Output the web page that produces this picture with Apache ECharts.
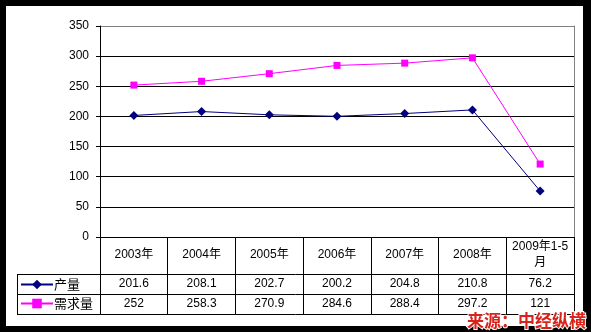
<!DOCTYPE html>
<html><head><meta charset="utf-8">
<script src="https://cdn.jsdelivr.net/npm/echarts@6/dist/echarts.min.js"></script>
<style>html,body{margin:0;padding:0;background:#000;}#c{width:591px;height:332px;}</style>
</head><body><div id="c"></div>
<script>
const categories = ['2003年','2004年','2005年','2006年','2007年','2008年','2009年1-5月'];
const production = [201.6, 208.1, 202.7, 200.2, 204.8, 210.8, 76.2];
const demand = [252, 258.3, 270.9, 284.6, 288.4, 297.2, 121];
const productionLabels = ['201.6','208.1','202.7','200.2','204.8','210.8','76.2'];
const demandLabels = ['252','258.3','270.9','284.6','288.4','297.2','121'];
const seriesNames = ['产量','需求量'];
const watermark = '来源：中经纵横';

const FONT = '"Liberation Sans", "Noto Sans CJK SC", sans-serif';
const chart = echarts.init(document.getElementById('c'), null, {renderer:'canvas'});
const rowAxis = (labels, margin) => ({
  type:'category', data:categories, position:'bottom', gridIndex:0,
  axisLine:{show:false}, axisTick:{show:false}, splitLine:{show:false},
  axisLabel:{interval:0, margin:margin, verticalAlign:'middle', color:'#000', fontSize:12, fontFamily:FONT,
    formatter:(v, i) => labels[i]}
});
chart.setOption({
  backgroundColor:'#000',
  animation:false,
  graphic:[
    {type:'rect', z:-10, shape:{x:6,y:6,width:577,height:320}, style:{fill:'#fff'}},
    {type:'line', z:5, shape:{x1:17,y1:274.5,x2:574,y2:274.5}, style:{stroke:'#000',lineWidth:1}},
    {type:'line', z:5, shape:{x1:17,y1:294.5,x2:574,y2:294.5}, style:{stroke:'#000',lineWidth:1}},
    {type:'line', z:5, shape:{x1:17,y1:314.5,x2:574,y2:314.5}, style:{stroke:'#000',lineWidth:1}},
    {type:'line', z:5, shape:{x1:17.5,y1:274,x2:17.5,y2:315}, style:{stroke:'#000',lineWidth:1}},
    {type:'text', z:20, left:466, top:311, style:{text:watermark, fill:'#d8231b', stroke:'#fff', lineWidth:2,
      font:'bold 17px "Noto Sans CJK SC", sans-serif'}}
  ],
  grid:{left:100, right:17, top:26, bottom:95, containLabel:false},
  legend:{orient:'vertical', left:20, top:278, itemGap:6, itemWidth:32, itemHeight:12, padding:0,
    data:seriesNames,
    textStyle:{color:'#000', fontSize:13, fontFamily:'"Noto Sans CJK SC", sans-serif', padding:[0,0,0,-4]}},
  xAxis:[
    {type:'category', data:categories, position:'bottom', boundaryGap:true,
      axisLine:{show:true, lineStyle:{color:'#000', width:1}},
      axisTick:{show:true, length:77, inside:false, alignWithLabel:false, interval:0, lineStyle:{color:'#000'}},
      axisLabel:{interval:0, margin:18, verticalAlign:'middle', color:'#000', fontSize:12, fontFamily:FONT,
        width:62, overflow:'break', lineHeight:16, align:'center'},
      splitLine:{show:false}},
    rowAxis(productionLabels, 47),
    rowAxis(demandLabels, 67)
  ],
  yAxis:[
    {type:'value', min:0, max:350, interval:50, position:'left',
      axisLine:{show:true, lineStyle:{color:'#000'}},
      axisTick:{show:true, length:4, lineStyle:{color:'#000'}},
      axisLabel:{color:'#000', fontSize:12, fontFamily:FONT, margin:11},
      splitLine:{show:true, lineStyle:{color:['#000','#000','#000','#000','#000','#000','#000','#808080'], width:1}}},
    {type:'value', min:0, max:350, interval:50, position:'right',
      axisLine:{show:true, lineStyle:{color:'#808080'}}, axisTick:{show:false}, axisLabel:{show:false}, splitLine:{show:false}}
  ],
  series:[
    {name:seriesNames[0], type:'line', xAxisIndex:0, yAxisIndex:0, data:production,
      symbol:'diamond', symbolSize:9, lineStyle:{color:'#000080', width:1}, itemStyle:{color:'#000080'}},
    {name:seriesNames[1], type:'line', xAxisIndex:0, yAxisIndex:0, data:demand,
      symbol:'rect', symbolSize:7, lineStyle:{color:'#ff00ff', width:1}, itemStyle:{color:'#ff00ff'}}
  ]
});
</script></body></html>
